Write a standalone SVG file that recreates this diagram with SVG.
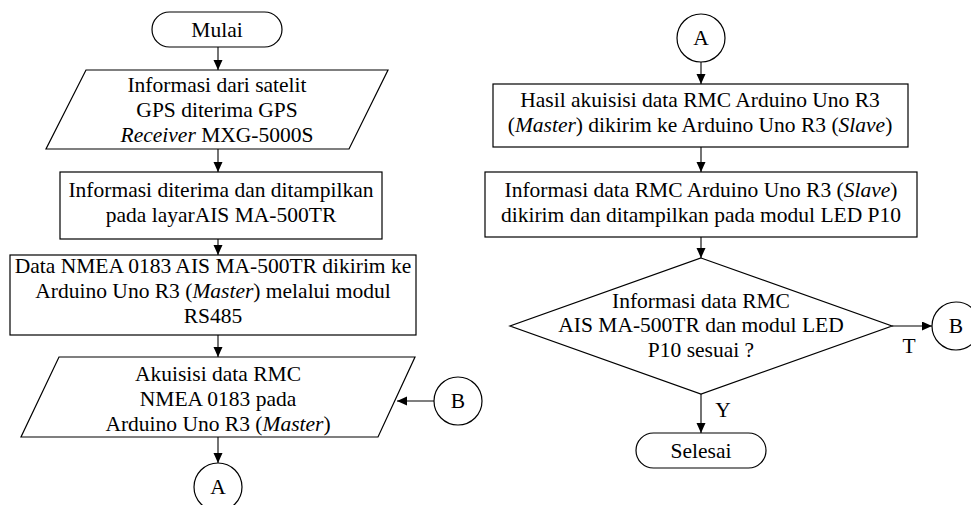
<svg xmlns="http://www.w3.org/2000/svg" width="971" height="505" viewBox="0 0 971 505">
<style>
.s{fill:#fff;stroke:#000;stroke-width:1.2}
.c{fill:none;stroke:#000;stroke-width:1.1}
text{font-family:"Liberation Serif","Times New Roman",serif;font-size:21.5px;fill:#000;text-anchor:middle}
.i{font-style:italic}
</style>
<defs>
<marker id="ah" markerUnits="userSpaceOnUse" markerWidth="11" markerHeight="10" refX="10" refY="4.5" orient="auto">
<path d="M0,0 L10,4.5 L0,9 z" fill="#000"/>
</marker>
</defs>
<g id="connectors">
<line class="c" x1="218" y1="47" x2="218" y2="70" marker-end="url(#ah)"/>
<line class="c" x1="218" y1="149" x2="218" y2="172" marker-end="url(#ah)"/>
<line class="c" x1="218" y1="239" x2="218" y2="255" marker-end="url(#ah)"/>
<line class="c" x1="218" y1="335" x2="218" y2="357" marker-end="url(#ah)"/>
<line class="c" x1="218" y1="437" x2="218" y2="463" marker-end="url(#ah)"/>
<line class="c" x1="434" y1="401" x2="397" y2="401" marker-end="url(#ah)"/>
<line class="c" x1="701" y1="62" x2="701" y2="84" marker-end="url(#ah)"/>
<line class="c" x1="701" y1="147" x2="701" y2="172" marker-end="url(#ah)"/>
<line class="c" x1="701" y1="237" x2="701" y2="258" marker-end="url(#ah)"/>
<line class="c" x1="892" y1="326" x2="932" y2="326" marker-end="url(#ah)"/>
<line class="c" x1="701" y1="394" x2="701" y2="433" marker-end="url(#ah)"/>
<text x="909" y="353">T</text>
<text x="723" y="417">Y</text>
</g>
<g id="mulai">
<rect class="s" x="152" y="12" width="130" height="35" rx="17.5"/>
<text x="217" y="37">Mulai</text>
</g>
<g id="gps">
<polygon class="s" points="86,70 388,70 349,149 46,149"/>
<text x="217" y="92">Informasi dari satelit</text>
<text x="217" y="117">GPS diterima GPS</text>
<text x="217" y="142"><tspan class="i">Receiver</tspan> MXG-5000S</text>
</g>
<g id="tampil">
<rect class="s" x="60" y="172" width="322" height="67"/>
<text x="221" y="197">Informasi diterima dan ditampilkan</text>
<text x="221" y="222">pada layarAIS MA-500TR</text>
</g>
<g id="nmea">
<rect class="s" x="10" y="255" width="406" height="80"/>
<text x="213" y="273">Data NMEA 0183 AIS MA-500TR dikirim ke</text>
<text x="213" y="298">Arduino Uno R3 (<tspan class="i">Master</tspan>) melalui modul</text>
<text x="213" y="323">RS485</text>
</g>
<g id="akuisisi">
<polygon class="s" points="59,357 415,357 378,437 21,437"/>
<text x="218" y="381">Akuisisi data RMC</text>
<text x="218" y="406">NMEA 0183 pada</text>
<text x="218" y="431">Arduino Uno R3 (<tspan class="i">Master</tspan>)</text>
</g>
<g id="B-left">
<circle class="s" cx="458" cy="401" r="24"/>
<text x="458" y="408">B</text>
</g>
<g id="A-left">
<circle class="s" cx="218" cy="487" r="24"/>
<text x="218" y="494">A</text>
</g>
<g id="A-right">
<circle class="s" cx="701" cy="38" r="24"/>
<text x="701" y="45">A</text>
</g>
<g id="hasil">
<rect class="s" x="493" y="84" width="415" height="63"/>
<text x="700" y="107">Hasil akuisisi data RMC Arduino Uno R3</text>
<text x="700" y="132">(<tspan class="i">Master</tspan>) dikirim ke Arduino Uno R3 (<tspan class="i">Slave</tspan>)</text>
</g>
<g id="info-led">
<rect class="s" x="485" y="172" width="432" height="65"/>
<text x="701" y="197">Informasi data RMC Arduino Uno R3 (<tspan class="i">Slave</tspan>)</text>
<text x="701" y="222">dikirim dan ditampilkan pada modul LED P10</text>
</g>
<g id="decision">
<polygon class="s" points="701,258 892,326 701,394 510,326"/>
<text x="701" y="308">Informasi data RMC</text>
<text x="701" y="332">AIS MA-500TR dan modul LED</text>
<text x="701" y="357">P10 sesuai ?</text>
</g>
<g id="B-right">
<circle class="s" cx="956" cy="326" r="24"/>
<text x="956" y="333">B</text>
</g>
<g id="selesai">
<rect class="s" x="636" y="433" width="130" height="35" rx="17.5"/>
<text x="701" y="458">Selesai</text>
</g>
</svg>
